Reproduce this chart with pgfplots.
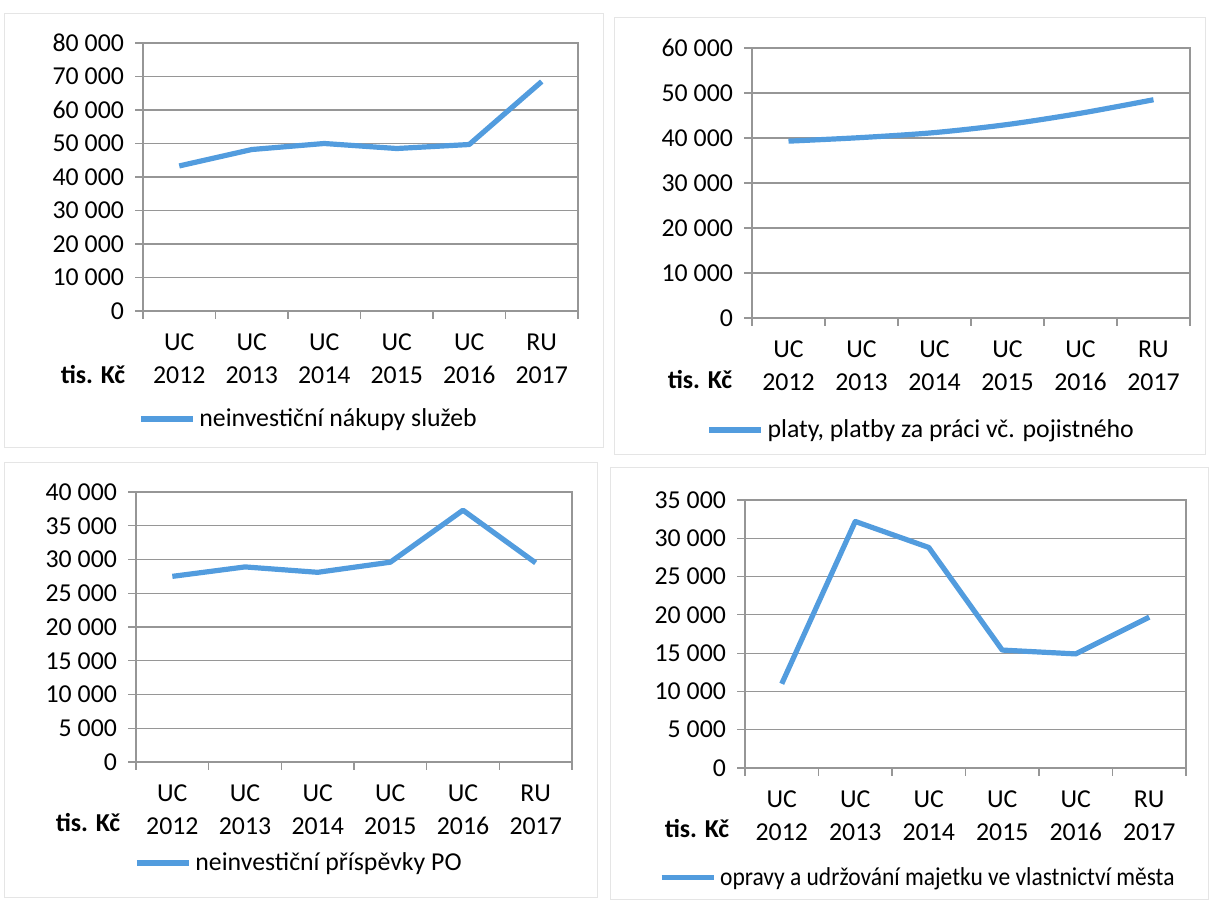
\documentclass[border=0pt]{standalone}
\usepackage{fontspec}
\setmainfont{Carlito}
\usepackage{graphicx}
\usepackage{pgfplots}
\pgfplotsset{compat=1.18}

\definecolor{modra}{RGB}{82,156,222}
\definecolor{mriz}{RGB}{150,150,150}
\newcommand{\lab}{\fontsize{12.9}{16.5}\selectfont}

\pgfplotsset{
  panel/.style={
    scale only axis,
    anchor=south west,
    xmin=-0.5, xmax=5.5, ymin=0,
    xtick={0,...,5},
    xticklabels={{UC\\2012},{UC\\2013},{UC\\2014},{UC\\2015},{UC\\2016},{RU\\2017}},
    x tick label style={align=center, font=\lab, yshift=-4pt},
    major x tick style={draw=none},
    minor xtick={-0.5,0.5,...,5.5},
    minor x tick style={mriz, line width=0.6pt},
    minor tick length=4pt,
    major tick length=4pt,
    tick align=outside,
    xtick pos=bottom, ytick pos=left,
    ytick style={mriz, line width=0.6pt},
    y tick label style={font=\lab, xshift=-2pt},
    /pgf/number format/assume math mode=true,
    /pgf/number format/1000 sep={\hspace{0.23em}},
    scaled y ticks=false,
    ymajorgrids,
    grid style={mriz, line width=0.6pt},
    axis line style={mriz, line width=0.6pt},
    legend style={draw=none, fill=none, inner sep=0pt, anchor=west, font=\lab,
      /tikz/every even column/.append style={column sep=1pt}},
    legend image code/.code={\draw[#1, line width=2.6pt] (0pt,0pt) -- (26pt,0pt);},
  },
  linka/.style={modra, line width=2.6pt, line join=round, no marks},
}

\begin{document}
\begin{tikzpicture}
\useasboundingbox (0pt,0pt) rectangle (606pt,452pt);

% ramecky panelu
\draw[gray!20, line width=0.5pt] (2pt,228pt) rectangle (301.5pt,445pt);
\draw[gray!20, line width=0.5pt] (307pt,224.5pt) rectangle (602.5pt,443pt);
\draw[gray!20, line width=0.5pt] (2pt,3pt) rectangle (298.5pt,220.5pt);
\draw[gray!20, line width=0.5pt] (305pt,2pt) rectangle (604pt,218pt);

% neinvesticni nakupy sluzeb
\begin{axis}[panel, at={(71.5pt,296.5pt)}, width=217.5pt, height=134pt,
  ymax=80000, ytick={0,10000,...,80000},
  legend style={at={(-0.012,-0.403)}}]
\addplot[linka] coordinates {(0,43300) (1,48200) (2,50000) (3,48500) (4,49700) (5,68500)};
\addlegendentry{neinvestiční nákupy služeb}
\end{axis}

% platy
\begin{axis}[panel, at={(376pt,293pt)}, width=219pt, height=135pt,
  ymax=60000, ytick={0,10000,...,60000},
  legend style={at={(-0.105,-0.415)}}]
\addplot[linka, smooth] coordinates {(0,39300) (1,40100) (2,41200) (3,43000) (4,45500) (5,48500)};
\addlegendentry{platy, platby za práci vč. pojistného}
\end{axis}

% prispevky PO
\begin{axis}[panel, at={(68pt,71pt)}, width=218pt, height=135pt,
  ymax=40000, ytick={0,5000,...,40000},
  legend style={at={(-0.005,-0.374)}}]
\addplot[linka] coordinates {(0,27500) (1,28900) (2,28100) (3,29600) (4,37300) (5,29500)};
\addlegendentry{neinvestiční příspěvky PO}
\end{axis}

% opravy a udrzovani
\begin{axis}[panel, at={(372.5pt,68pt)}, width=220.5pt, height=134pt,
  ymax=35000, ytick={0,5000,...,35000},
  legend style={at={(-0.196,-0.41)}}]
\addplot[linka] coordinates {(0,11000) (1,32200) (2,28800) (3,15400) (4,14900) (5,19700)};
\addlegendentry{\scalebox{0.91}[1]{opravy a udržování majetku ve vlastnictví města}}
\end{axis}

\node[font=\lab\bfseries] at (46.5pt,264.5pt) {tis. Kč};
\node[font=\lab\bfseries] at (350pt,262pt) {tis. Kč};
\node[font=\lab\bfseries] at (44pt,40.5pt) {tis. Kč};
\node[font=\lab\bfseries] at (348.5pt,37.5pt) {tis. Kč};
\end{tikzpicture}
\end{document}
